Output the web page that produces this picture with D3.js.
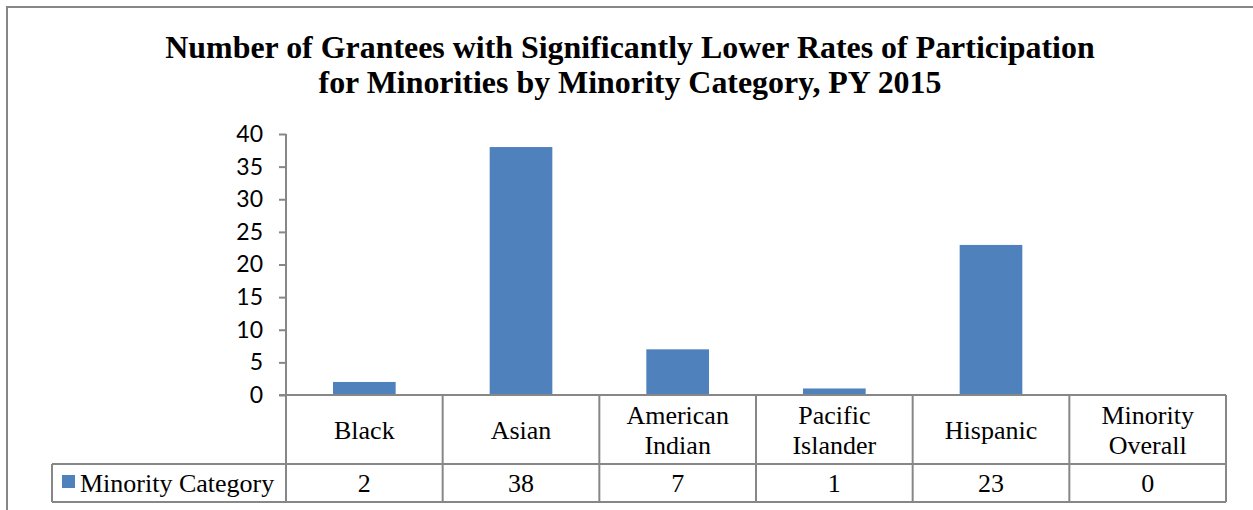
<!DOCTYPE html>
<html><head><meta charset="utf-8">
<script src="https://cdn.jsdelivr.net/npm/d3@7"></script>
<style>
html,body{margin:0;padding:0;background:#fff;overflow:hidden}
</style></head>
<body>
<svg id="c" width="1253" height="510"></svg>
<script>
const titleLines = ["Number of Grantees with Significantly Lower Rates of Participation",
                    "for Minorities by Minority Category, PY 2015"];
const categories = [["Black"],["Asian"],["American","Indian"],["Pacific","Islander"],["Hispanic"],["Minority","Overall"]];
const seriesName = "Minority Category";
const values = [2, 38, 7, 1, 23, 0];
const yTicks = [0,5,10,15,20,25,30,35,40];

const svg = d3.select("#c");
const gray = "#878787";
const barColor = "#4F81BD";
const serif = "'Liberation Serif', 'Times New Roman', serif";
const sans = "Lato, 'Open Sans', sans-serif";
const L = 286, R = 1226, T = 134, B = 395, rowMid = 464, rowBot = 502, legL = 52;

// outer border
svg.append("rect").attr("x",7).attr("y",7).attr("width",1300).attr("height",600)
  .attr("fill","none").attr("stroke",gray).attr("stroke-width",2);

// title
const tt = svg.append("g").selectAll("text").data(titleLines).join("text")
  .attr("x",630).attr("y",(d,i)=>58+i*35)
  .attr("text-anchor","middle")
  .style("font-family",serif)
  .style("font-weight","bold").style("font-size","30px").attr("fill","#000")
  .text(d=>d);
// fit first line to the reference width
const w0 = tt.nodes()[0].getComputedTextLength();
const fs = 30*930/w0;
tt.style("font-size",fs+"px");

const x = d3.scaleBand().domain(d3.range(categories.length)).range([L,R]).padding(0);
const y = d3.scaleLinear().domain([0,40]).range([B,T]);

// bars
svg.append("g").selectAll("rect").data(values).join("rect")
  .attr("x",(d,i)=>x(i)+x.bandwidth()*0.3)
  .attr("width",x.bandwidth()*0.4)
  .attr("y",d=>y(d)).attr("height",d=>y(0)-y(d))
  .attr("fill",barColor);

// y axis
const ax = svg.append("g").attr("transform",`translate(${L},0)`)
  .call(d3.axisLeft(y).tickValues(yTicks).tickSize(7).tickPadding(16).tickFormat(d3.format("d")));
ax.select(".domain").remove();
ax.selectAll(".tick line").attr("stroke",gray).attr("stroke-width",2);
ax.selectAll(".tick text").style("font-family",sans).style("font-size","23px").attr("fill","#000");
svg.append("line").attr("x1",L).attr("x2",L).attr("y1",T).attr("y2",rowBot).attr("stroke",gray).attr("stroke-width",2);

// table lines
const tl = svg.append("g").attr("stroke",gray).attr("stroke-width",2);
tl.append("line").attr("x1",L-7).attr("x2",R).attr("y1",B).attr("y2",B);
tl.append("line").attr("x1",legL).attr("x2",R).attr("y1",rowMid).attr("y2",rowMid);
tl.append("line").attr("x1",legL).attr("x2",R).attr("y1",rowBot).attr("y2",rowBot);
tl.append("line").attr("x1",legL).attr("x2",legL).attr("y1",rowMid).attr("y2",rowBot);
tl.selectAll("line.v").data(d3.range(1,categories.length+1)).join("line").attr("class","v")
  .attr("x1",i=>x(i-1)+x.bandwidth()).attr("x2",i=>x(i-1)+x.bandwidth())
  .attr("y1",B).attr("y2",rowBot);

// category labels
const cl = svg.append("g");
categories.forEach((lines,i)=>{
  const cx = x(i)+x.bandwidth()/2;
  const n = lines.length;
  lines.forEach((t,j)=>{
    cl.append("text").attr("x",cx)
      .attr("y", (B+rowMid)/2 + (j-(n-1)/2)*30)
      .attr("dy","0.35em").attr("text-anchor","middle")
      .style("font-family",serif).style("font-size","26px").attr("fill","#000").text(t);
  });
});
// values row
svg.append("g").selectAll("text").data(values).join("text")
  .attr("x",(d,i)=>x(i)+x.bandwidth()/2).attr("y",(rowMid+rowBot)/2).attr("dy","0.35em")
  .attr("text-anchor","middle").style("font-family",serif).style("font-size","26px").attr("fill","#000")
  .text(d=>d);
// legend
svg.append("rect").attr("x",62).attr("y",475).attr("width",13).attr("height",13).attr("fill",barColor);
svg.append("text").attr("x",80).attr("y",(rowMid+rowBot)/2).attr("dy","0.35em")
  .style("font-family",serif).style("font-size","26px").attr("fill","#000").text(seriesName);
</script>
</body></html>
